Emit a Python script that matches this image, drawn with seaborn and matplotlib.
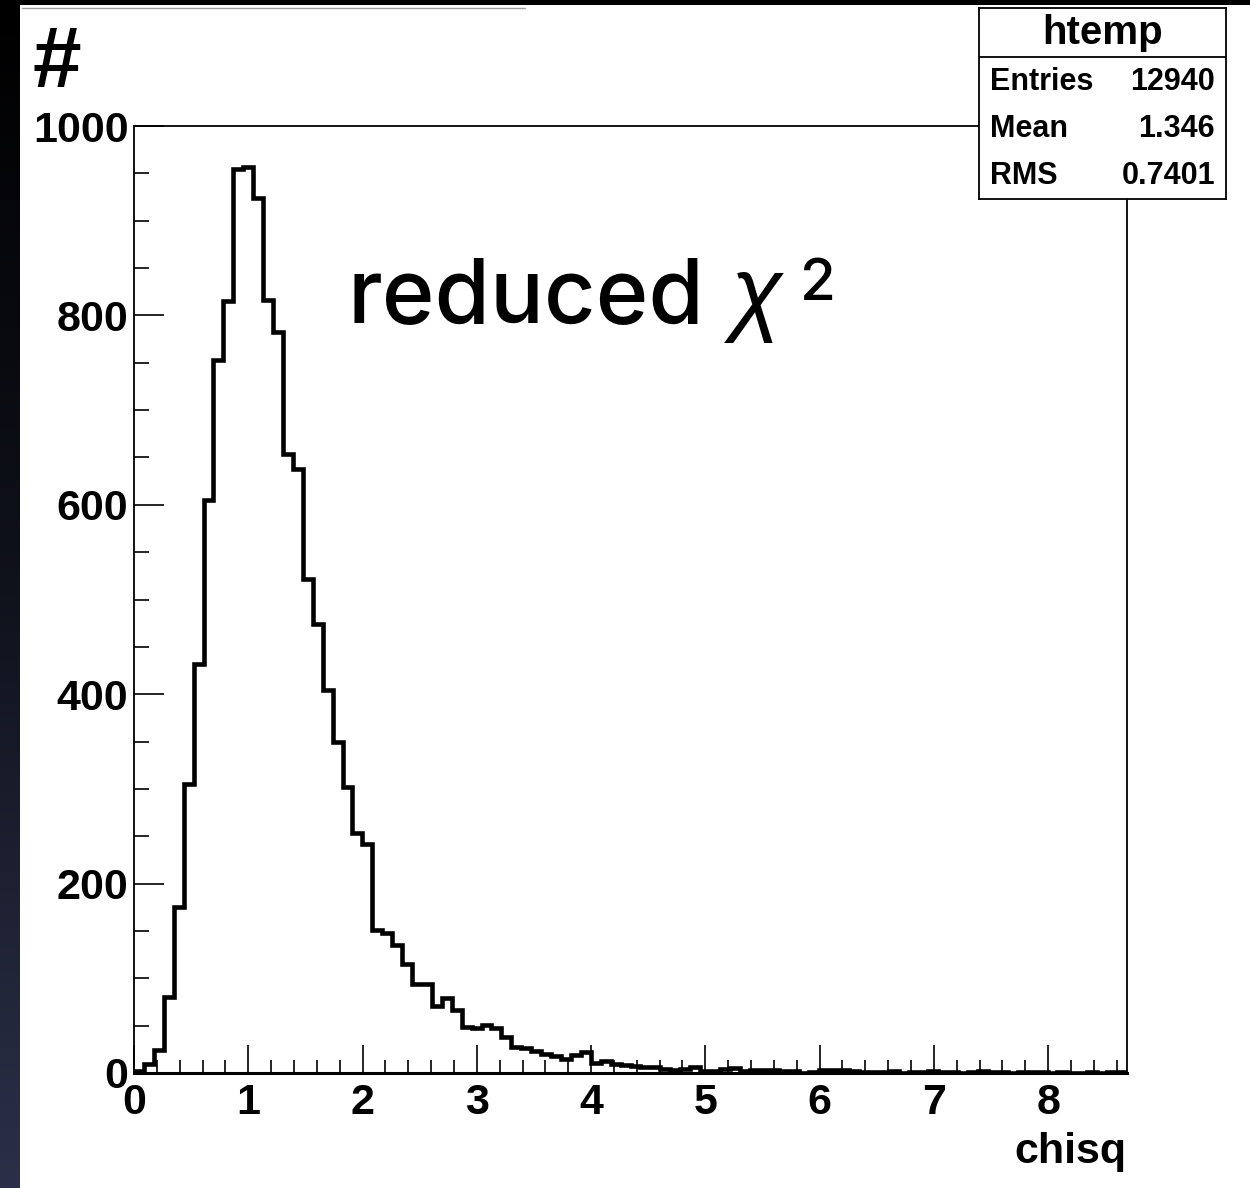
import numpy as np
import pandas as pd
import matplotlib
matplotlib.use("Agg")
import matplotlib.pyplot as plt
from matplotlib.ticker import MultipleLocator, FixedLocator
from matplotlib.patches import Rectangle
from matplotlib.lines import Line2D
import seaborn as sns

# chisq histogram: 100 equal-width bins from 0 to x_max
x_max = 8.69
n_bins = 100
counts = [2, 10, 24, 80, 175, 305, 432, 605, 753, 815,
          955, 957, 924, 816, 782, 654, 638, 522, 474, 404,
          350, 302, 253, 242, 151, 148, 135, 115, 94, 94,
          71, 79, 66, 49, 48, 51, 47, 38, 27, 26,
          23, 20, 18, 15, 19, 22, 11, 13, 10, 8,
          7, 6, 6, 4, 3, 4, 6, 2, 2, 4,
          5, 2, 3, 3, 3, 2, 2, 0, 1, 3,
          3, 3, 2, 1, 1, 1, 2, 0, 1, 1,
          2, 1, 1, 0, 1, 2, 1, 1, 0, 1,
          1, 1, 0, 1, 0, 0, 1, 0, 1, 1]
x_ticks = [0, 1, 2, 3, 4, 5, 6, 7, 8]
y_ticks = [0, 200, 400, 600, 800, 1000]
x_title = "chisq"
y_title = "#"
note_word = "reduced"
note_symbol = "χ"
note_power = "2"
stats_title = "htemp"
stats_names = ["Entries", "Mean", "RMS"]
stats_values = ["12940", "1.346", "0.7401"]

sns.set_theme(style="white", rc={
    "axes.edgecolor": "black",
    "text.color": "black",
    "xtick.color": "black",
    "ytick.color": "black",
    "axes.linewidth": 1.3,
})
plt.rcParams["font.family"] = ["Liberation Sans", "DejaVu Sans"]

W, H = 1250, 1188
fig = plt.figure(figsize=(W / 100, H / 100), dpi=100)
fig.patch.set_facecolor("white")


def fx(px):
    return px / W


def fy(py):
    return 1 - py / H


# dark slide edge on the left and along the top
edge_ax = fig.add_axes([0, 0, fx(20), 1])
grad = np.linspace(0, 1, 256).reshape(-1, 1)
edge_cmap = matplotlib.colors.LinearSegmentedColormap.from_list(
    "edge", ["#000000", "#10121c", "#2b3048"])
edge_ax.imshow(grad, aspect="auto", cmap=edge_cmap, extent=[0, 1, 0, 1], origin="upper")
edge_ax.set_axis_off()
fig.patches.append(Rectangle((0, fy(5)), 1, 5 / H, transform=fig.transFigure,
                             facecolor="black", edgecolor="none", zorder=5))
fig.lines.append(Line2D([fx(22), fx(525)], [fy(7.5), fy(7.5)], transform=fig.transFigure,
                        color="#a0a0a0", lw=1.0))

# main histogram
ax = fig.add_axes([fx(134), fy(1073), fx(1127) - fx(134), fy(126) - fy(1073)])
edges = list(np.linspace(0, x_max, n_bins + 1))
centers = [0.5 * (a + b) for a, b in zip(edges[:-1], edges[1:])]
df = pd.DataFrame({"chisq": centers, "count": counts})
sns.histplot(data=df, x="chisq", weights="count", bins=edges, element="step",
             fill=False, color="black", linewidth=3.3, ax=ax,
             solid_joinstyle="miter")
ax.set_xlim(0, x_max)
ax.set_ylim(0, 1000)
ax.set_xlabel("")
ax.set_ylabel("")

ax.xaxis.set_major_locator(FixedLocator(x_ticks))
ax.xaxis.set_minor_locator(MultipleLocator(0.2))
ax.yaxis.set_major_locator(FixedLocator(y_ticks))
ax.yaxis.set_minor_locator(MultipleLocator(50))
ax.tick_params(axis="x", which="major", direction="in", length=20, width=1.2,
               labelsize=31, pad=7, bottom=True, top=False)
ax.tick_params(axis="x", which="minor", direction="in", length=9.5, width=1.2,
               bottom=True, top=False)
ax.tick_params(axis="y", which="major", direction="in", length=21.5, width=1.2,
               labelsize=31, pad=4, left=True, right=False)
ax.tick_params(axis="y", which="minor", direction="in", length=11, width=1.2,
               left=True, right=False)
for lbl in ax.get_xticklabels() + ax.get_yticklabels():
    lbl.set_fontweight("bold")
for side, spine in ax.spines.items():
    spine.set_visible(True)
    spine.set_color("black")
    spine.set_linewidth(2.2 if side == "bottom" else 1.3)

ax.text(1.0, -(1163 - 1073) / (1073 - 126), x_title, transform=ax.transAxes,
        ha="right", va="baseline", fontsize=31, fontweight="bold")
fig.text(fx(32), fy(87), y_title, ha="left", va="baseline", fontsize=63,
         fontweight="bold")

# "reduced chi^2" annotation
fig.text(fx(347), fy(323), note_word, ha="left", va="baseline", fontsize=64.5,
         family=["Inter", "Liberation Sans"], fontweight="medium")
fig.text(fx(731), fy(323), note_symbol, ha="left", va="baseline", fontsize=68,
         family=["Liberation Sans", "DejaVu Sans"], style="italic")
fig.text(fx(800), fy(300), note_power, ha="left", va="baseline", fontsize=42,
         family=["Inter", "Liberation Sans"], fontweight="medium")

# statistics box
sax = fig.add_axes([fx(979), fy(199), fx(1226) - fx(979), fy(8) - fy(199)])
sax.set_xlim(0, 1)
sax.set_ylim(0, 1)
sax.set_xticks([])
sax.set_yticks([])
sax.set_facecolor("white")
for spine in sax.spines.values():
    spine.set_visible(True)
    spine.set_color("black")
    spine.set_linewidth(1.3)
sep = (199 - 57) / 191
sax.axhline(sep, color="black", lw=1.3)
sax.text(0.5, (199 - 33) / 191, stats_title, ha="center", va="center",
         fontsize=29, fontweight="bold")
row_y = [(199 - 82) / 191, (199 - 129) / 191, (199 - 176) / 191]
for name, val, yy in zip(stats_names, stats_values, row_y):
    sax.text(0.045, yy, name, ha="left", va="center", fontsize=22, fontweight="bold")
    sax.text(0.955, yy, val, ha="right", va="center", fontsize=22, fontweight="bold")

fig.savefig("out.png", dpi=100, facecolor="white")
